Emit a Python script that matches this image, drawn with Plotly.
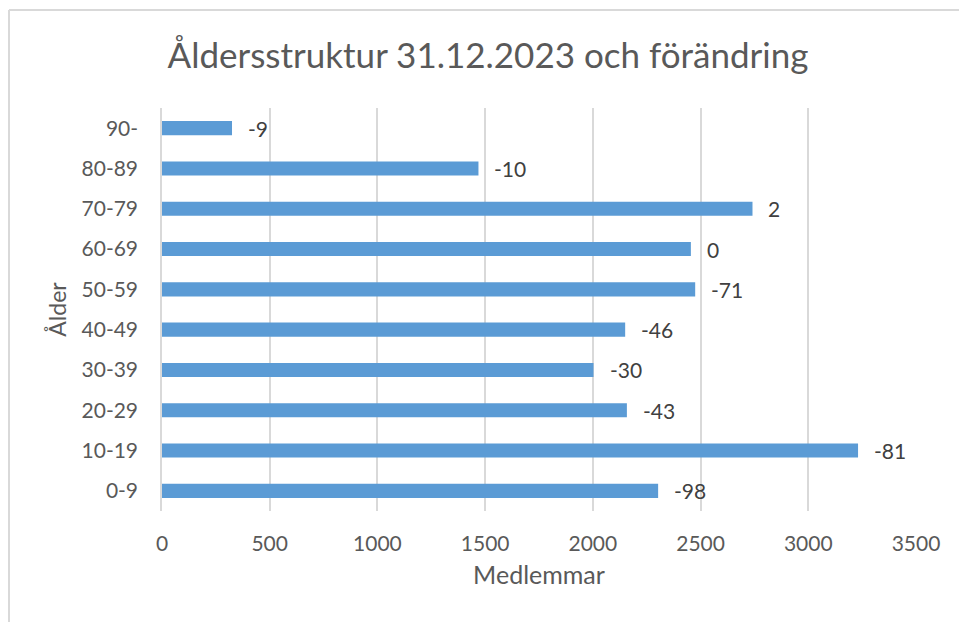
import plotly.graph_objects as go

categories = ["0-9", "10-19", "20-29", "30-39", "40-49", "50-59", "60-69", "70-79", "80-89", "90-"]
members = [2303, 3231, 2158, 2003, 2150, 2475, 2455, 2741, 1469, 325]
change = [-98, -81, -43, -30, -46, -71, 0, 2, -10, -9]
x_ticks = [0, 500, 1000, 1500, 2000, 2500, 3000, 3500]

FONT = "Lato"
GREY = "#595959"

W, H = 959, 622
L, R, T, B = 162, 43, 108, 111
PW, PH = W - L - R, H - T - B

fig = go.Figure()
fig.add_trace(go.Bar(
    y=categories, x=members, orientation="h",
    marker=dict(color="#5B9BD5", line=dict(width=0)),
    width=0.35, hoverinfo="x+y",
))

for c, m, d in zip(categories, members, change):
    fig.add_annotation(x=m, y=c, text=str(d), showarrow=False,
                       xanchor="left", yanchor="middle", xshift=14,
                       font=dict(family=FONT, size=21, color="#404040"))

fig.update_layout(
    width=W, height=H,
    margin=dict(l=L, r=R, t=T, b=B, autoexpand=False),
    paper_bgcolor="white", plot_bgcolor="white",
    showlegend=False,
    title=dict(text="Åldersstruktur 31.12.2023 och förändring",
               x=488 / W, xanchor="center", y=1 - 56 / H, yanchor="middle",
               font=dict(family=FONT, size=35, color=GREY)),
    xaxis=dict(range=[0, 3500], tickvals=x_ticks, ticktext=[str(v) for v in x_ticks],
               showgrid=True, gridcolor="#D9D9D9", gridwidth=1.5, zeroline=False,
               showline=False, ticks="", ticklabelstandoff=18, automargin=False,
               tickfont=dict(family=FONT, size=21, color=GREY),
               title=dict(text="Medlemmar", standoff=12,
                          font=dict(family=FONT, size=25, color=GREY))),
    yaxis=dict(categoryorder="array", categoryarray=categories,
               showgrid=False, zeroline=False, showline=True, automargin=False,
               linecolor="#D9D9D9", linewidth=1.5, ticks="",
               ticklabelstandoff=18,
               tickfont=dict(family=FONT, size=21, color=GREY),
               title=dict(text="Ålder", standoff=8,
                          font=dict(family=FONT, size=23, color=GREY))),
    font=dict(family=FONT, color=GREY),
)

top_y = (H - B - 10) / PH
left_x = -(L - 9) / PW
fig.add_shape(type="line", xref="paper", yref="paper",
              x0=left_x, x1=(W - L + 5) / PW, y0=top_y, y1=top_y,
              line=dict(color="#D9D9D9", width=2))
fig.add_shape(type="line", xref="paper", yref="paper",
              x0=left_x, x1=left_x, y0=top_y, y1=-(B + 5) / PH,
              line=dict(color="#D9D9D9", width=2))

fig.write_html("out.html", config={"displayModeBar": False},
               post_script="document.body.style.margin='0';")
